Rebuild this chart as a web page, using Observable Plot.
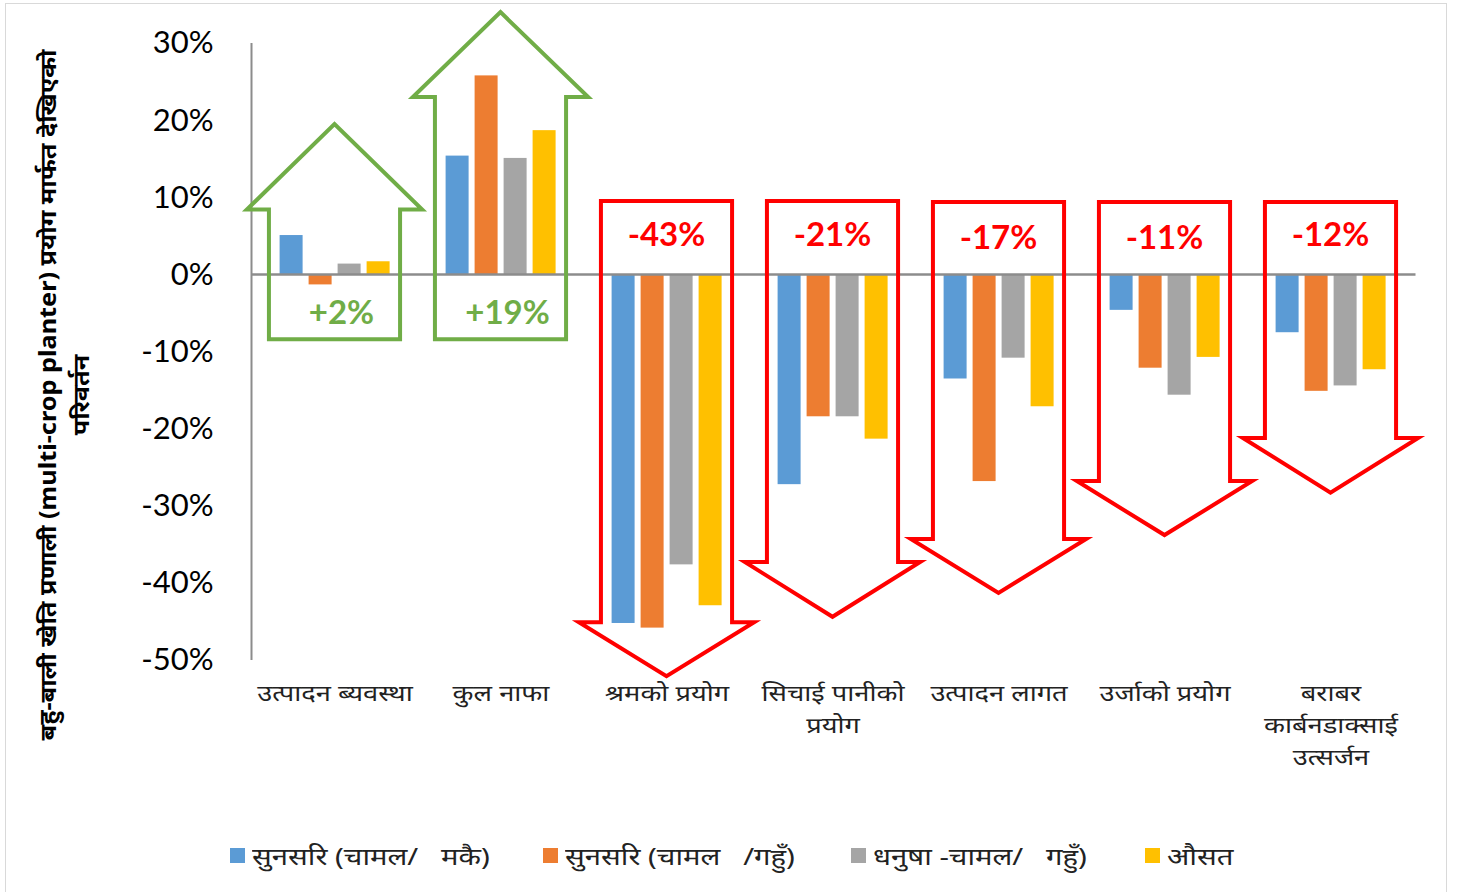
<!DOCTYPE html>
<html>
<head>
<meta charset="utf-8">
<script src="https://cdn.jsdelivr.net/npm/d3@7"></script>
<script src="https://cdn.jsdelivr.net/npm/@observablehq/plot@0.6"></script>
<style>
  body { margin: 0; background: #fff; }
  #frame { position: absolute; left: 5px; top: 3px; width: 1440px; height: 900px; border: 1px solid #d9d9d9; background: #fff; }
  #chart { position: absolute; left: 0; top: 0; }
  #legend { position: absolute; left: 0; top: 831px; width: 1440px; height: 40px; font-family: "Noto Sans", sans-serif; font-size: 24px; color: #222; }
  .item { position: absolute; top: 0; display: flex; align-items: center; height: 40px; white-space: pre; }
  .sw { width: 15px; height: 15px; margin-right: 7px; display: inline-block; }
  .lt { display: inline-block; transform: scaleX(1.22); transform-origin: left center; }
</style>
</head>
<body>
<div id="frame">
  <div id="chart"></div>
  <div id="legend"></div>
</div>
<script>
const categories = ["उत्पादन ब्यवस्था", "कुल नाफा", "श्रमको प्रयोग", "सिचाई पानीको प्रयोग", "उत्पादन लागत", "उर्जाको प्रयोग", "बराबर कार्बनडाक्साई उत्सर्जन"];
const categoryLabels = ["उत्पादन ब्यवस्था", "कुल नाफा", "श्रमको प्रयोग", "सिचाई पानीको\nप्रयोग", "उत्पादन लागत", "उर्जाको प्रयोग", "बराबर\nकार्बनडाक्साई\nउत्सर्जन"];
const seriesNames = ["सुनसरि (चामल/   मकै)", "सुनसरि (चामल   /गहुँ)", "धनुषा -चामल/   गहुँ)", "औसत"];
const seriesColors = ["#5b9bd5", "#ed7d31", "#a5a5a5", "#ffc000"];
const sunsariRiceMaize = [5.1, 15.4, -45.2, -27.2, -13.5, -4.6, -7.5];
const sunsariRiceWheat = [-1.3, 25.8, -45.8, -18.4, -26.8, -12.1, -15.1];
const dhanushaRiceWheat = [1.4, 15.1, -37.6, -18.4, -10.8, -15.6, -14.4];
const averageValues = [1.7, 18.7, -42.9, -21.3, -17.1, -10.7, -12.3];
const yTicks = [-50, -40, -30, -20, -10, 0, 10, 20, 30];
const arrowLabels = ["+2%", "+19%", "-43%", "-21%", "-17%", "-11%", "-12%"];
const arrowDirection = ["up", "up", "down", "down", "down", "down", "down"];
const arrowStart = [-8.4, -8.4, 9.5, 9.5, 9.4, 9.4, 9.4];
const arrowShoulder = [8.4, 23.0, -45.1, -37.3, -34.3, -26.8, -21.2];
const arrowTip = [19.5, 34.0, -52.1, -44.4, -41.3, -33.8, -28.3];
const arrowLabelY = [-4.7, -4.7, 5.3, 5.3, 5.0, 5.0, 5.3];

const allSeries = [sunsariRiceMaize, sunsariRiceWheat, dhanushaRiceWheat, averageValues];
const data = [];
categories.forEach((c, i) => allSeries.forEach((s, j) => data.push({category: c, series: seriesNames[j], value: s[i]})));

const devFont = "'Noto Sans', sans-serif";
const numFont = "Lato, 'Open Sans', sans-serif";

const plot = Plot.plot({
  width: 1440,
  height: 820,
  marginLeft: 269.4,
  marginRight: 55.8,
  marginTop: 39,
  marginBottom: 164,
  style: {fontFamily: numFont, fontSize: "30px", color: "#000", background: "#fff"},
  fx: {domain: categories, paddingInner: 0.317, paddingOuter: 0, axis: null, label: null},
  x: {domain: seriesNames, paddingInner: 0.217, paddingOuter: 0, axis: null},
  y: {domain: [-50, 30], axis: null},
  color: {domain: seriesNames, range: seriesColors},
  marks: [
    Plot.axisY({ticks: yTicks, tickFormat: d => d + "%", tickSize: 0, tickPadding: 65, fontSize: 31, fontFamily: numFont, fill: "#000", label: null}),
    Plot.barY(data, {fx: "category", x: "series", y: "value", fill: "series"}),
    Plot.text(categories, {fx: d => d, text: (d, i) => categoryLabels[i], frameAnchor: "bottom", dy: 18, lineAnchor: "top", lineHeight: 1.45, fontSize: 22, fontFamily: devFont, fill: "#222"})
  ]
});
document.getElementById("chart").appendChild(plot);

const svg = d3.select(plot);
// widen the Devanagari category labels horizontally, as in the reference
svg.selectAll('g[aria-label="text"] text').each(function() {
  const t = this.getAttribute("transform") || "";
  this.setAttribute("transform", (t + " scale(1.24,1)").trim());
});

// Overlays drawn with the plot's own scales
const fx = plot.scale("fx"), y = plot.scale("y");
const bw = fx.bandwidth;
const step = fx.apply(categories[1]) - fx.apply(categories[0]);
const centers = categories.map(c => fx.apply(c) + bw / 2);
const left = centers[0] - step / 2, right = centers[centers.length - 1] + step / 2;

svg.append("line").attr("x1", left).attr("x2", left).attr("y1", y.apply(30)).attr("y2", y.apply(-50))
  .attr("stroke", "#8c8c8c").attr("stroke-width", 2);
svg.append("line").attr("x1", left).attr("x2", right + 2).attr("y1", y.apply(0)).attr("y2", y.apply(0))
  .attr("stroke", "#8c8c8c").attr("stroke-width", 2.5);

const shaft = 0.395 * step, head = 0.528 * step;
const g = svg.append("g");
categories.forEach((c, i) => {
  const cx = centers[i];
  const s = y.apply(arrowStart[i]), sh = y.apply(arrowShoulder[i]), t = y.apply(arrowTip[i]);
  const color = arrowDirection[i] === "up" ? "#70ad47" : "#ff0000";
  const pts = [[cx - shaft, s], [cx - shaft, sh], [cx - head, sh], [cx, t], [cx + head, sh], [cx + shaft, sh], [cx + shaft, s]];
  g.append("path").attr("d", d3.line()(pts) + "Z").attr("fill", "none").attr("stroke", color)
    .attr("stroke-width", 4).attr("stroke-linejoin", "miter").attr("stroke-miterlimit", 10);
  g.append("text").attr("x", cx + (arrowDirection[i] === "up" ? 7 : 0)).attr("y", y.apply(arrowLabelY[i]))
    .attr("text-anchor", "middle").attr("dominant-baseline", "central")
    .attr("font-family", numFont).attr("font-weight", "bold").attr("font-size", 33).attr("fill", color)
    .text(arrowLabels[i]);
});

// Y axis title (two lines, rotated)
const yTitle = ["बहु-बाली खेति प्रणाली (multi-crop planter) प्रयोग मार्फत देखिएको", "परिवर्तन"];
const midY = 391;
[41, 74].forEach((x, k) => {
  svg.append("text").attr("transform", `translate(${x},${midY}) rotate(-90) scale(1.1,1)`)
    .attr("text-anchor", "middle").attr("dominant-baseline", "central")
    .attr("font-family", devFont).attr("font-weight", "bold").attr("font-size", 23).attr("fill", "#000")
    .text(yTitle[k]);
});

// Legend
const legendLeft = [224, 537, 845, 1139];
const legend = document.getElementById("legend");
seriesNames.forEach((n, i) => {
  const it = document.createElement("div");
  it.className = "item";
  it.style.left = legendLeft[i] + "px";
  it.innerHTML = `<span class="sw" style="background:${seriesColors[i]}"></span><span class="lt">${n}</span>`;
  legend.appendChild(it);
});
</script>
</body>
</html>
